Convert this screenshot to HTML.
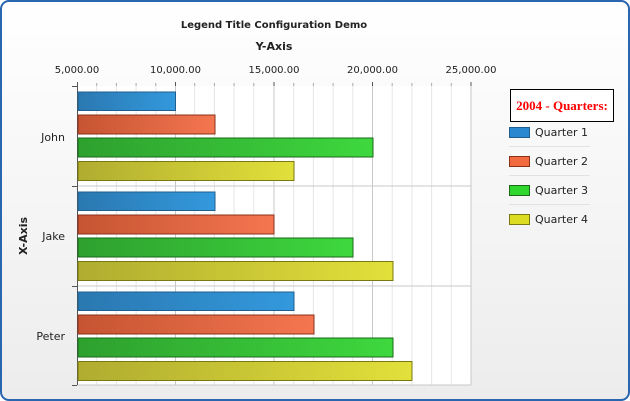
<!DOCTYPE html>
<html><head><style>
html,body{margin:0;padding:0;background:#fff}
svg{display:block;font-family:"DejaVu Sans","Liberation Sans",sans-serif}
</style></head><body>
<svg width="630" height="401" viewBox="0 0 630 401" xmlns="http://www.w3.org/2000/svg">
<defs>
<linearGradient id="bg" x1="0" y1="0" x2="0" y2="1"><stop offset="0" stop-color="#ffffff"/><stop offset="1" stop-color="#ececec"/></linearGradient>
<linearGradient id="g1" x1="0" x2="1"><stop offset="0" stop-color="#2a78b0"/><stop offset="1" stop-color="#3399dd"/></linearGradient>
<linearGradient id="g2" x1="0" x2="1"><stop offset="0" stop-color="#c65432"/><stop offset="1" stop-color="#f47650"/></linearGradient>
<linearGradient id="g3" x1="0" x2="1"><stop offset="0" stop-color="#2ea02e"/><stop offset="1" stop-color="#3ed83e"/></linearGradient>
<linearGradient id="g4" x1="0" x2="1"><stop offset="0" stop-color="#b0ac30"/><stop offset="1" stop-color="#e2e03a"/></linearGradient>
</defs>
<rect x="1" y="1" width="628" height="399" rx="8" fill="url(#bg)" stroke="#2a66b0" stroke-width="2"/>
<rect x="77" y="86" width="394" height="299" fill="#fff"/>
<g stroke="#e6e6e6" stroke-width="1">
<line x1="96.7" y1="86" x2="96.7" y2="385"/><line x1="116.4" y1="86" x2="116.4" y2="385"/><line x1="136.1" y1="86" x2="136.1" y2="385"/><line x1="155.8" y1="86" x2="155.8" y2="385"/>
<line x1="194.7" y1="86" x2="194.7" y2="385"/><line x1="214.4" y1="86" x2="214.4" y2="385"/><line x1="234.1" y1="86" x2="234.1" y2="385"/><line x1="253.8" y1="86" x2="253.8" y2="385"/>
<line x1="293.7" y1="86" x2="293.7" y2="385"/><line x1="313.4" y1="86" x2="313.4" y2="385"/><line x1="333.1" y1="86" x2="333.1" y2="385"/><line x1="352.8" y1="86" x2="352.8" y2="385"/>
<line x1="392.2" y1="86" x2="392.2" y2="385"/><line x1="411.9" y1="86" x2="411.9" y2="385"/><line x1="431.6" y1="86" x2="431.6" y2="385"/><line x1="451.3" y1="86" x2="451.3" y2="385"/>
</g>
<g stroke="#c8c8c8" stroke-width="1">
<line x1="175.5" y1="86" x2="175.5" y2="385"/><line x1="274" y1="86" x2="274" y2="385"/><line x1="372.5" y1="86" x2="372.5" y2="385"/><line x1="471" y1="86" x2="471" y2="385"/>
<line x1="77" y1="186" x2="471" y2="186"/><line x1="77" y1="286" x2="471" y2="286"/><line x1="77" y1="385" x2="471" y2="385"/>
</g>
<g stroke="#555" stroke-width="1">
<line x1="77.5" y1="82" x2="77.5" y2="385"/>
<line x1="72" y1="86.5" x2="77" y2="86.5"/><line x1="72" y1="186.5" x2="77" y2="186.5"/><line x1="72" y1="286.5" x2="77" y2="286.5"/><line x1="72" y1="385.5" x2="77" y2="385.5"/>
<line x1="175.5" y1="82" x2="175.5" y2="86"/><line x1="274" y1="82" x2="274" y2="86"/><line x1="372.5" y1="82" x2="372.5" y2="86"/><line x1="471" y1="82" x2="471" y2="86"/>
</g>
<g stroke="#aaa" stroke-width="1">
<line x1="96.7" y1="83" x2="96.7" y2="86"/><line x1="116.4" y1="83" x2="116.4" y2="86"/><line x1="136.1" y1="83" x2="136.1" y2="86"/><line x1="155.8" y1="83" x2="155.8" y2="86"/>
<line x1="194.7" y1="83" x2="194.7" y2="86"/><line x1="214.4" y1="83" x2="214.4" y2="86"/><line x1="234.1" y1="83" x2="234.1" y2="86"/><line x1="253.8" y1="83" x2="253.8" y2="86"/>
<line x1="293.7" y1="83" x2="293.7" y2="86"/><line x1="313.4" y1="83" x2="313.4" y2="86"/><line x1="333.1" y1="83" x2="333.1" y2="86"/><line x1="352.8" y1="83" x2="352.8" y2="86"/>
<line x1="392.2" y1="83" x2="392.2" y2="86"/><line x1="411.9" y1="83" x2="411.9" y2="86"/><line x1="431.6" y1="83" x2="431.6" y2="86"/><line x1="451.3" y1="83" x2="451.3" y2="86"/>
</g>
<g stroke-width="1">
<rect x="78" y="92" width="97.5" height="18.5" fill="url(#g1)" stroke="#1f5f90"/>
<rect x="78" y="115" width="137" height="19" fill="url(#g2)" stroke="#8a3018"/>
<rect x="78" y="138" width="295" height="19" fill="url(#g3)" stroke="#1a6a1a"/>
<rect x="78" y="161.5" width="216" height="19" fill="url(#g4)" stroke="#7a7810"/>
<rect x="78" y="192" width="137" height="18.5" fill="url(#g1)" stroke="#1f5f90"/>
<rect x="78" y="215" width="196" height="19" fill="url(#g2)" stroke="#8a3018"/>
<rect x="78" y="238" width="275" height="19" fill="url(#g3)" stroke="#1a6a1a"/>
<rect x="78" y="261.5" width="315" height="19" fill="url(#g4)" stroke="#7a7810"/>
<rect x="78" y="292" width="216" height="18.5" fill="url(#g1)" stroke="#1f5f90"/>
<rect x="78" y="315" width="236" height="19" fill="url(#g2)" stroke="#8a3018"/>
<rect x="78" y="338" width="315" height="19" fill="url(#g3)" stroke="#1a6a1a"/>
<rect x="78" y="361.5" width="334" height="19" fill="url(#g4)" stroke="#7a7810"/>
</g>
<g font-size="11" fill="#222">
<text x="274" y="28" text-anchor="middle" font-weight="bold" font-size="10">Legend Title Configuration Demo</text>
<text x="274" y="50" text-anchor="middle" font-weight="bold">Y-Axis</text>
<g font-size="10">
<text x="77" y="73" text-anchor="middle">5,000.00</text>
<text x="175.5" y="73" text-anchor="middle">10,000.00</text>
<text x="274" y="73" text-anchor="middle">15,000.00</text>
<text x="372.5" y="73" text-anchor="middle">20,000.00</text>
<text x="471" y="73" text-anchor="middle">25,000.00</text>
</g>
<text x="65" y="141" text-anchor="end">John</text>
<text x="65" y="240" text-anchor="end">Jake</text>
<text x="65" y="340" text-anchor="end">Peter</text>
<text transform="translate(27,236) rotate(-90)" text-anchor="middle" font-weight="bold">X-Axis</text>
</g>
<rect x="510.5" y="89.5" width="103" height="32" fill="#fff" stroke="#000"/>
<text x="562" y="110" text-anchor="middle" font-family="Liberation Serif,serif" font-weight="bold" font-size="13" fill="#f00">2004 - Quarters:</text>
<g stroke="#e2e2e2"><line x1="509" y1="146.5" x2="590" y2="146.5"/><line x1="509" y1="175.5" x2="590" y2="175.5"/><line x1="509" y1="204.5" x2="590" y2="204.5"/></g>
<rect x="509.5" y="127.5" width="20" height="10" fill="#2a88d0" stroke="#1f5f90"/>
<rect x="509.5" y="156.5" width="20" height="10" fill="#f26a40" stroke="#8a3018"/>
<rect x="509.5" y="185.5" width="20" height="10" fill="#2ed62e" stroke="#1a6a1a"/>
<rect x="509.5" y="214.5" width="20" height="10" fill="#dcdc22" stroke="#7a7810"/>
<g font-size="11" fill="#222">
<text x="535" y="136">Quarter 1</text><text x="535" y="165">Quarter 2</text><text x="535" y="194">Quarter 3</text><text x="535" y="223">Quarter 4</text>
</g>
</svg>
</body></html>
